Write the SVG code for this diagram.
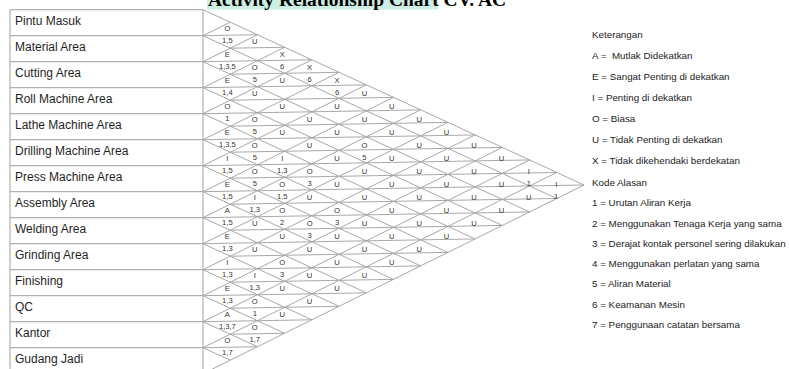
<svg xmlns="http://www.w3.org/2000/svg" width="789" height="369" viewBox="0 0 789 369">
<style>
.ln{stroke:#a8a8a8;stroke-width:1;fill:none}
.tb{stroke:#a0a0a0;stroke-width:1;fill:none}
.lbl{font-family:"Liberation Sans",Arial,sans-serif;font-size:12px;fill:#1f1f1f}
.t{font-family:"Liberation Sans",Arial,sans-serif;font-size:7.6px;fill:#333;text-anchor:middle}
.leg{font-family:"Liberation Sans",Arial,sans-serif;font-size:9.8px;fill:#222}
.title{font-family:"Liberation Serif","Times New Roman",serif;font-size:19.5px;font-weight:bold;fill:#000}
#relations,#legend,#table{opacity:0.995}
</style>
<rect width="789" height="369" fill="#fff"/>
<g id="title">
<rect x="207" y="-14" width="231" height="23.5" fill="#cdeee2"/>
<text class="title" x="208" y="5.5">Activity Relationship Chart CV. AC</text>
</g>
<g id="table">
<path class="tb" d="M10 9.7V374M203 9.7V374M10 9.7H203M10 35.7H203M10 61.7H203M10 87.7H203M10 113.7H203M10 139.7H203M10 165.7H203M10 191.7H203M10 217.7H203M10 243.7H203M10 269.7H203M10 295.7H203M10 321.7H203M10 347.7H203"/>
<g id="row1"><text class="lbl" x="15" y="25.2">Pintu Masuk</text></g>
<g id="row2"><text class="lbl" x="15" y="51.2">Material Area</text></g>
<g id="row3"><text class="lbl" x="15" y="77.2">Cutting Area</text></g>
<g id="row4"><text class="lbl" x="15" y="103.2">Roll Machine Area</text></g>
<g id="row5"><text class="lbl" x="15" y="129.2">Lathe Machine Area</text></g>
<g id="row6"><text class="lbl" x="15" y="155.2">Drilling Machine Area</text></g>
<g id="row7"><text class="lbl" x="15" y="181.2">Press Machine Area</text></g>
<g id="row8"><text class="lbl" x="15" y="207.2">Assembly Area</text></g>
<g id="row9"><text class="lbl" x="15" y="233.2">Welding Area</text></g>
<g id="row10"><text class="lbl" x="15" y="259.2">Grinding Area</text></g>
<g id="row11"><text class="lbl" x="15" y="285.2">Finishing</text></g>
<g id="row12"><text class="lbl" x="15" y="311.2">QC</text></g>
<g id="row13"><text class="lbl" x="15" y="337.2">Kantor</text></g>
<g id="row14"><text class="lbl" x="15" y="363.2">Gudang Jadi</text></g>
</g>
<g id="connectors">
<path class="ln" d="M203 9.7L584 184.99M203 35.7L556.78 198.47M203 61.7L529.57 211.95M203 87.7L502.35 225.43M203 113.7L475.14 238.91M203 139.7L447.93 252.39M203 165.7L420.71 265.87M203 191.7L393.5 279.35M203 217.7L366.28 292.83M203 243.7L339.07 306.31M203 269.7L311.86 319.78M203 295.7L284.64 333.26M203 321.7L257.43 346.74M203 347.7L230.21 360.22"/>
<path class="ln" d="M203 35.7L230.21 22.22M203 61.7L257.43 34.74M203 87.7L284.64 47.26M203 113.7L311.86 59.78M203 139.7L339.07 72.31M203 165.7L366.28 84.83M203 191.7L393.5 97.35M203 217.7L420.71 109.87M203 243.7L447.93 122.39M203 269.7L475.14 134.91M203 295.7L502.35 147.43M203 321.7L529.57 159.95M203 347.7L556.78 172.47M203 373.7L584 184.99"/>
<path class="ln" d="M203 35.7L257.43 34.74M230.21 48.22L284.64 47.26M203 61.7L311.86 59.78M230.21 74.22L339.07 72.31M203 87.7L366.28 84.83M230.21 100.22L393.5 97.35M203 113.7L420.71 109.87M230.21 126.22L447.93 122.39M203 139.7L475.14 134.91M230.21 152.22L502.35 147.43M203 165.7L529.57 159.95M230.21 178.22L556.78 172.47M203 191.7L584 184.99M230.21 204.22L556.78 198.47M203 217.7L529.57 211.95M230.21 230.22L502.35 225.43M203 243.7L475.14 238.91M230.21 256.22L447.93 252.39M203 269.7L420.71 265.87M230.21 282.22L393.5 279.35M203 295.7L366.28 292.83M230.21 308.22L339.07 306.31M203 321.7L311.86 319.78M230.21 334.22L284.64 333.26M203 347.7L257.43 346.74"/>
</g>
<g id="relations">
<g id="r1-2"><text class="t" x="227.4" y="30.9">O</text><text class="t" x="227.4" y="42.9">1,5</text></g>
<g id="r2-3"><text class="t" x="227.4" y="56.9">E</text><text class="t" x="227.4" y="68.9">1,3,5</text></g>
<g id="r3-4"><text class="t" x="227.4" y="82.9">E</text><text class="t" x="227.4" y="94.9">1,4</text></g>
<g id="r4-5"><text class="t" x="227.4" y="108.9">O</text><text class="t" x="227.4" y="120.9">1</text></g>
<g id="r5-6"><text class="t" x="227.4" y="134.9">E</text><text class="t" x="227.4" y="146.9">1,3,5</text></g>
<g id="r6-7"><text class="t" x="227.4" y="160.9">I</text><text class="t" x="227.4" y="172.9">1,5</text></g>
<g id="r7-8"><text class="t" x="227.4" y="186.9">E</text><text class="t" x="227.4" y="198.9">1,5</text></g>
<g id="r8-9"><text class="t" x="227.4" y="212.9">A</text><text class="t" x="227.4" y="224.9">1,5</text></g>
<g id="r9-10"><text class="t" x="227.4" y="238.9">E</text><text class="t" x="227.4" y="250.9">1,3</text></g>
<g id="r10-11"><text class="t" x="227.4" y="264.9">I</text><text class="t" x="227.4" y="276.9">1,3</text></g>
<g id="r11-12"><text class="t" x="227.4" y="290.9">E</text><text class="t" x="227.4" y="302.9">1,3</text></g>
<g id="r12-13"><text class="t" x="227.4" y="316.9">A</text><text class="t" x="227.4" y="328.9">1,3,7</text></g>
<g id="r13-14"><text class="t" x="227.4" y="342.9">O</text><text class="t" x="227.4" y="354.9">1,7</text></g>

<g id="r1-3"><text class="t" x="254.8" y="43.9">U</text></g>
<g id="r2-4"><text class="t" x="254.8" y="69.9">O</text><text class="t" x="254.8" y="81.9">5</text></g>
<g id="r3-5"><text class="t" x="254.8" y="95.9">U</text></g>
<g id="r4-6"><text class="t" x="254.8" y="121.9">O</text><text class="t" x="254.8" y="133.9">5</text></g>
<g id="r5-7"><text class="t" x="254.8" y="147.9">O</text><text class="t" x="254.8" y="159.9">5</text></g>
<g id="r6-8"><text class="t" x="254.8" y="173.9">O</text><text class="t" x="254.8" y="185.9">5</text></g>
<g id="r7-9"><text class="t" x="254.8" y="199.9">I</text><text class="t" x="254.8" y="211.9">1,3</text></g>
<g id="r8-10"><text class="t" x="254.8" y="225.9">U</text></g>
<g id="r9-11"><text class="t" x="254.8" y="251.9">U</text></g>
<g id="r10-12"><text class="t" x="254.8" y="277.9">I</text><text class="t" x="254.8" y="289.9">1,3</text></g>
<g id="r11-13"><text class="t" x="254.8" y="303.9">O</text><text class="t" x="254.8" y="315.9">1</text></g>
<g id="r12-14"><text class="t" x="254.8" y="329.9">O</text><text class="t" x="254.8" y="341.9">1,7</text></g>

<g id="r1-4"><text class="t" x="282.2" y="56.9">X</text><text class="t" x="282.2" y="68.9">6</text></g>
<g id="r2-5"><text class="t" x="282.2" y="82.9">U</text></g>
<g id="r3-6"><text class="t" x="282.2" y="108.9">U</text></g>
<g id="r4-7"><text class="t" x="282.2" y="134.9">U</text></g>
<g id="r5-8"><text class="t" x="282.2" y="160.9">I</text><text class="t" x="282.2" y="172.9">1,3</text></g>
<g id="r6-9"><text class="t" x="282.2" y="186.9">O</text><text class="t" x="282.2" y="198.9">1,5</text></g>
<g id="r7-10"><text class="t" x="282.2" y="212.9">O</text><text class="t" x="282.2" y="224.9">2</text></g>
<g id="r8-11"><text class="t" x="282.2" y="238.9">U</text></g>
<g id="r9-12"><text class="t" x="282.2" y="264.9">O</text><text class="t" x="282.2" y="276.9">3</text></g>
<g id="r10-13"><text class="t" x="282.2" y="290.9">U</text></g>
<g id="r11-14"><text class="t" x="282.2" y="316.9">U</text></g>

<g id="r1-5"><text class="t" x="309.6" y="69.9">X</text><text class="t" x="309.6" y="81.9">6</text></g>
<g id="r3-7"><text class="t" x="309.6" y="121.9">U</text></g>
<g id="r4-8"><text class="t" x="309.6" y="147.9">U</text></g>
<g id="r5-9"><text class="t" x="309.6" y="173.9">O</text><text class="t" x="309.6" y="185.9">3</text></g>
<g id="r6-10"><text class="t" x="309.6" y="199.9">U</text></g>
<g id="r7-11"><text class="t" x="309.6" y="225.9">O</text><text class="t" x="309.6" y="237.9">3</text></g>
<g id="r8-12"><text class="t" x="309.6" y="251.9">U</text></g>
<g id="r9-13"><text class="t" x="309.6" y="277.9">U</text></g>
<g id="r10-14"><text class="t" x="309.6" y="303.9">U</text></g>

<g id="r1-6"><text class="t" x="337" y="82.9">X</text><text class="t" x="337" y="94.9">6</text></g>
<g id="r2-7"><text class="t" x="337" y="108.9">U</text></g>
<g id="r3-8"><text class="t" x="337" y="134.9">U</text></g>
<g id="r4-9"><text class="t" x="337" y="160.9">U</text></g>
<g id="r5-10"><text class="t" x="337" y="186.9">U</text></g>
<g id="r6-11"><text class="t" x="337" y="212.9">O</text><text class="t" x="337" y="224.9">3</text></g>
<g id="r7-12"><text class="t" x="337" y="238.9">U</text></g>
<g id="r8-13"><text class="t" x="337" y="264.9">U</text></g>
<g id="r9-14"><text class="t" x="337" y="290.9">U</text></g>

<g id="r1-7"><text class="t" x="364.4" y="95.9">U</text></g>
<g id="r2-8"><text class="t" x="364.4" y="121.9">U</text></g>
<g id="r3-9"><text class="t" x="364.4" y="147.9">O</text><text class="t" x="364.4" y="159.9">5</text></g>
<g id="r4-10"><text class="t" x="364.4" y="173.9">U</text></g>
<g id="r5-11"><text class="t" x="364.4" y="199.9">U</text></g>
<g id="r6-12"><text class="t" x="364.4" y="225.9">U</text></g>
<g id="r7-13"><text class="t" x="364.4" y="251.9">U</text></g>
<g id="r8-14"><text class="t" x="364.4" y="277.9">U</text></g>

<g id="r1-8"><text class="t" x="391.8" y="108.9">U</text></g>
<g id="r2-9"><text class="t" x="391.8" y="134.9">U</text></g>
<g id="r3-10"><text class="t" x="391.8" y="160.9">U</text></g>
<g id="r4-11"><text class="t" x="391.8" y="186.9">U</text></g>
<g id="r5-12"><text class="t" x="391.8" y="212.9">U</text></g>
<g id="r6-13"><text class="t" x="391.8" y="238.9">U</text></g>
<g id="r7-14"><text class="t" x="391.8" y="264.9">U</text></g>

<g id="r1-9"><text class="t" x="419.2" y="121.9">U</text></g>
<g id="r2-10"><text class="t" x="419.2" y="147.9">U</text></g>
<g id="r3-11"><text class="t" x="419.2" y="173.9">U</text></g>
<g id="r4-12"><text class="t" x="419.2" y="199.9">U</text></g>
<g id="r5-13"><text class="t" x="419.2" y="225.9">U</text></g>
<g id="r6-14"><text class="t" x="419.2" y="251.9">U</text></g>

<g id="r1-10"><text class="t" x="446.6" y="134.9">U</text></g>
<g id="r2-11"><text class="t" x="446.6" y="160.9">U</text></g>
<g id="r3-12"><text class="t" x="446.6" y="186.9">U</text></g>
<g id="r4-13"><text class="t" x="446.6" y="212.9">U</text></g>
<g id="r5-14"><text class="t" x="446.6" y="238.9">U</text></g>

<g id="r1-11"><text class="t" x="474" y="147.9">U</text></g>
<g id="r2-12"><text class="t" x="474" y="173.9">U</text></g>
<g id="r3-13"><text class="t" x="474" y="199.9">U</text></g>
<g id="r4-14"><text class="t" x="474" y="225.9">U</text></g>

<g id="r1-12"><text class="t" x="501.4" y="160.9">U</text></g>
<g id="r2-13"><text class="t" x="501.4" y="186.9">U</text></g>
<g id="r3-14"><text class="t" x="501.4" y="212.9">U</text></g>

<g id="r1-13"><text class="t" x="528.8" y="173.9">I</text><text class="t" x="528.8" y="185.9">1</text></g>
<g id="r2-14"><text class="t" x="528.8" y="199.9">U</text></g>

<g id="r1-14"><text class="t" x="556.2" y="186.9">I</text><text class="t" x="556.2" y="198.9">1</text></g>
</g>
<g id="legend">
<text class="leg" x="592" y="37.5">Keterangan</text>
<text class="leg" x="592" y="58.5" xml:space="preserve">A =  Mutlak Didekatkan</text>
<text class="leg" x="592" y="79.5">E = Sangat Penting di dekatkan</text>
<text class="leg" x="592" y="101">I = Penting di dekatkan</text>
<text class="leg" x="592" y="122">O = Biasa</text>
<text class="leg" x="592" y="143">U = Tidak Penting di dekatkan</text>
<text class="leg" x="592" y="163.5">X = Tidak dikehendaki berdekatan</text>
<text class="leg" x="592" y="185.5">Kode Alasan</text>
<text class="leg" x="592" y="206">1 = Urutan Aliran Kerja</text>
<text class="leg" x="592" y="227">2 = Menggunakan Tenaga Kerja yang sama</text>
<text class="leg" x="592" y="247">3 = Derajat kontak personel sering dilakukan</text>
<text class="leg" x="592" y="267">4 = Menggunakan perlatan yang sama</text>
<text class="leg" x="592" y="287">5 = Aliran Material</text>
<text class="leg" x="592" y="307.5">6 = Keamanan Mesin</text>
<text class="leg" x="592" y="328">7 = Penggunaan catatan bersama</text>
</g>
</svg>
